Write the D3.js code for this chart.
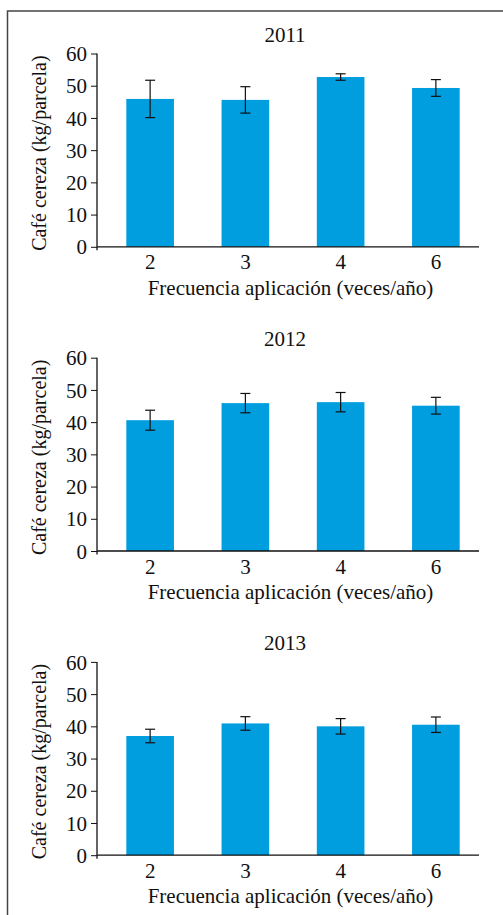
<!DOCTYPE html>
<html>
<head>
<meta charset="utf-8">
<script src="https://cdn.jsdelivr.net/npm/d3@7"></script>
<style>
  body { margin: 0; background: #fff; }
  text { font-family: "Liberation Serif", "Times New Roman", serif; fill: #111; }
</style>
</head>
<body>
<div id="chart"></div>
<script>
// data
const categories = ["2", "3", "4", "6"];
const years = ["2011", "2012", "2013"];
const yTicks = [0, 10, 20, 30, 40, 50, 60];
const means2011 = [45.9, 45.6, 52.7, 49.3];
const errs2011 = [5.8, 4.1, 1.0, 2.6];
const means2012 = [40.6, 45.9, 46.2, 45.1];
const errs2012 = [3.1, 3.0, 3.0, 2.6];
const means2013 = [37.0, 40.9, 40.0, 40.5];
const errs2013 = [2.1, 2.1, 2.4, 2.4];

const seriesMeans = [means2011, means2012, means2013];
const seriesErrs = [errs2011, errs2012, errs2013];

const width = 503, height = 915;
const barColor = "#009ddf";
const serif = "'Liberation Serif', 'Times New Roman', serif";
const fs = 21;

const svg = d3.select("#chart")
  .append("svg")
    .attr("width", width)
    .attr("height", height);

// frame (left + top, open at bottom/right)
svg.append("path")
  .attr("d", `M7.5,${height}V11H${width}`)
  .attr("fill", "none")
  .attr("stroke", "#444")
  .attr("stroke-width", 1.5);

const axisLeftX = 97, axisRightX = 479, plotH = 193.3;

const x = d3.scaleBand()
  .domain(categories)
  .range([102.5, 483.5])
  .paddingInner(0.5)
  .paddingOuter(0.25);

years.forEach(function(yr, i) {
  const top = 53.5 + i * 304.2;
  const y = d3.scaleLinear()
    .domain([0, 60])
    .range([top + plotH, top]);
  const y0 = y(0);
  const g = svg.append("g");

  const data = categories.map((c, j) => ({cat: c, mean: seriesMeans[i][j], err: seriesErrs[i][j]}));

  // bars
  g.selectAll("rect")
    .data(data)
    .join("rect")
      .attr("x", d => x(d.cat))
      .attr("y", d => y(d.mean))
      .attr("width", x.bandwidth())
      .attr("height", d => y0 - y(d.mean))
      .attr("fill", barColor);

  // error bars
  const eb = g.append("g")
    .attr("stroke", "#111")
    .attr("stroke-width", 1.2);
  data.forEach(function(d) {
    const cx = x(d.cat) + x.bandwidth() / 2;
    eb.append("line")
      .attr("x1", cx).attr("x2", cx)
      .attr("y1", y(d.mean + d.err)).attr("y2", y(d.mean - d.err));
    [d.mean + d.err, d.mean - d.err].forEach(v => {
      eb.append("line")
        .attr("x1", cx - 5).attr("x2", cx + 5)
        .attr("y1", y(v)).attr("y2", y(v));
    });
  });

  // y axis
  const ya = g.append("g")
    .attr("transform", `translate(${axisLeftX},0)`)
    .call(d3.axisLeft(y).tickValues(yTicks).tickSize(6).tickSizeOuter(0).tickPadding(4));
  ya.select(".domain").remove();
  ya.selectAll("line").attr("stroke", "#111");
  ya.selectAll("text")
    .style("font-family", serif)
    .style("font-size", fs + "px")
    .attr("dy", "0.34em");

  // x axis labels
  const xa = g.append("g")
    .attr("transform", `translate(0,${y0})`)
    .call(d3.axisBottom(x).tickSize(0).tickPadding(0));
  xa.select(".domain").remove();
  xa.selectAll("text")
    .style("font-family", serif)
    .style("font-size", fs + "px")
    .attr("dy", 0)
    .attr("y", 22.5);

  // axis lines
  g.append("line")
    .attr("x1", axisLeftX).attr("x2", axisLeftX)
    .attr("y1", top).attr("y2", y0 + 3.5)
    .attr("stroke", "#111").attr("stroke-width", 1.3);
  g.append("line")
    .attr("x1", axisLeftX).attr("x2", axisRightX)
    .attr("y1", y0).attr("y2", y0)
    .attr("stroke", "#111").attr("stroke-width", 1.3);

  // title
  g.append("text")
    .attr("x", 285)
    .attr("y", top - 11.5)
    .attr("text-anchor", "middle")
    .style("font-size", fs + "px")
    .text(yr);

  // axis titles
  g.append("text")
    .attr("x", 290.5)
    .attr("y", y0 + 48)
    .attr("text-anchor", "middle")
    .style("font-size", fs + "px")
    .text("Frecuencia aplicación (veces/año)");

  g.append("text")
    .attr("transform", `translate(46,${top + plotH / 2 + 3}) rotate(-90)`)
    .attr("text-anchor", "middle")
    .style("font-size", "20px")
    .text("Café cereza (kg/parcela)");
});
</script>
</body>
</html>
